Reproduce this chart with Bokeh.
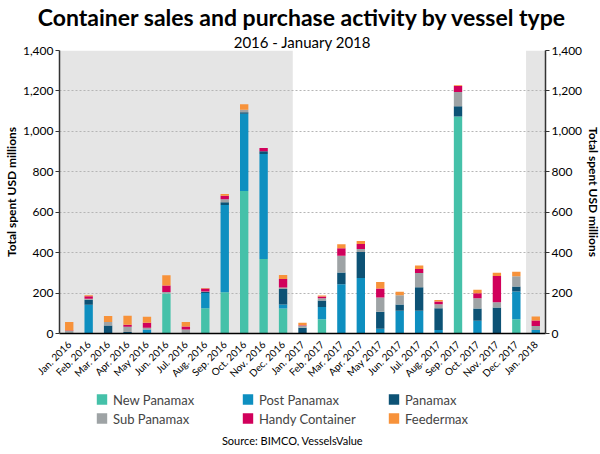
import math
from bokeh.plotting import figure
from bokeh.layouts import column
from bokeh.models import (Range1d, LinearAxis, NumeralTickFormatter, BoxAnnotation,
                          Legend, LegendItem, Title, FixedTicker)
from bokeh.embed import file_html
from bokeh.resources import INLINE

months = ["Jan. 2016", "Feb. 2016", "Mar. 2016", "Apr. 2016", "May 2016", "Jun. 2016",
          "Jul. 2016", "Aug. 2016", "Sep. 2016", "Oct. 2016", "Nov. 2016", "Dec. 2016",
          "Jan. 2017", "Feb. 2017", "Mar. 2017", "Apr. 2017", "May 2017", "Jun. 2017",
          "Jul. 2017", "Aug. 2017", "Sep. 2017", "Oct. 2017", "Nov. 2017", "Dec. 2017",
          "Jan. 2018"]

new_panamax  = [0, 0, 0, 0, 0, 198, 0, 125, 204, 705, 368, 124,
                0, 71, 0, 0, 0, 0, 0, 0, 1074, 0, 0, 70, 0]
post_panamax = [0, 142, 0, 0, 20, 0, 0, 75, 432, 382, 520, 20,
                0, 60, 244, 274, 23, 113, 113, 17, 0, 63, 0, 138, 17]
panamax      = [0, 25, 40, 8, 0, 0, 0, 5, 13, 8, 13, 76,
                28, 32, 58, 129, 85, 30, 116, 108, 50, 61, 129, 25, 0]
sub_panamax  = [12, 5, 17, 25, 8, 7, 20, 3, 15, 12, 0, 7,
                10, 12, 83, 15, 70, 46, 70, 20, 71, 50, 25, 50, 20]
handy        = [3, 12, 0, 10, 25, 33, 15, 15, 18, 0, 17, 43,
                3, 8, 37, 25, 45, 0, 20, 13, 30, 25, 131, 0, 27]
feedermax    = [42, 5, 30, 45, 30, 50, 22, 2, 8, 27, 0, 20,
                12, 5, 20, 15, 32, 17, 18, 8, 3, 17, 15, 22, 20]

series_names = ["New Panamax", "Post Panamax", "Panamax", "Sub Panamax",
                "Handy Container", "Feedermax"]
colors = ["#45C1A9", "#0E8FC0", "#0D5275", "#9EA3A5", "#D1005B", "#F7923A"]
y_ticks = [0, 200, 400, 600, 800, 1000, 1200, 1400]

FONT = "Lato"

data = {"month": months, "New Panamax": new_panamax, "Post Panamax": post_panamax,
        "Panamax": panamax, "Sub Panamax": sub_panamax,
        "Handy Container": handy, "Feedermax": feedermax}

p = figure(x_range=months, y_range=Range1d(0, 1400),
           frame_width=486, frame_height=283,
           output_backend="svg", toolbar_location=None, title=None,
           min_border_left=0, min_border_right=0, min_border_top=0, min_border_bottom=0)
p.outline_line_color = None
p.background_fill_color = "white"

# shaded periods
p.add_layout(BoxAnnotation(left=0, right=months.index("Dec. 2016") + 1,
                           fill_color="#E5E5E5", fill_alpha=1, line_color=None, level="image"))
p.add_layout(BoxAnnotation(left=months.index("Jan. 2018"), right=len(months),
                           fill_color="#E5E5E5", fill_alpha=1, line_color=None, level="image"))

renderers = p.vbar_stack(series_names, x="month", width=0.43, color=colors,
                         source=data, line_color=None)

# grid
p.xgrid.grid_line_color = None
p.ygrid.grid_line_color = "#B5B5B5"
p.ygrid.grid_line_dash = "2 2"
p.ygrid.grid_line_width = 1

def style_y(ax):
    ax.ticker = FixedTicker(ticks=y_ticks)
    ax.formatter = NumeralTickFormatter(format="0,0")
    ax.axis_label = "Total spent USD millions"
    ax.axis_label_text_font = FONT
    ax.axis_label_text_font_style = "bold"
    ax.axis_label_text_font_size = "12px"
    ax.axis_label_text_color = "black"
    ax.axis_label_standoff = 1
    ax.major_label_text_font = FONT
    ax.major_label_text_font_size = "12px"
    ax.major_label_text_color = "black"
    ax.major_label_standoff = 2
    ax.minor_tick_line_color = None
    ax.major_tick_out = 4
    ax.major_tick_in = 0
    ax.major_tick_line_color = "#333333"
    ax.axis_line_color = "#333333"
    ax.axis_line_width = 1.5

style_y(p.yaxis[0])
right_axis = LinearAxis()
style_y(right_axis)
p.add_layout(right_axis, "right")

xa = p.xaxis[0]
xa.major_label_orientation = math.pi / 4
xa.major_label_text_font = FONT
xa.major_label_text_font_size = "10px"
xa.major_label_text_color = "black"
xa.major_tick_line_color = None
xa.minor_tick_line_color = None
xa.axis_line_color = "black"
xa.axis_line_width = 1.5
xa.major_label_standoff = 3

sub = Title(text="2016 - January 2018", align="center", standoff=0, text_font=FONT,
            text_font_size="15px", text_font_style="normal", text_color="black")
p.add_layout(sub, "above")
main = Title(text="Container sales and purchase activity by vessel type", align="center",
             standoff=0, text_font=FONT, text_font_size="23px", text_font_style="bold",
             text_color="black")
p.add_layout(main, "above")

# legend + source in a strip below the chart
lg = figure(width=584, height=60, x_range=Range1d(0, 1), y_range=Range1d(0, 1),
            output_backend="svg", toolbar_location=None, title=None,
            min_border_left=0, min_border_right=0, min_border_top=0, min_border_bottom=0)
lg.axis.visible = False
lg.grid.grid_line_color = None
lg.outline_line_color = None
nan = float("nan")
proxies = [lg.vbar(x=[nan], top=[nan], width=0.5, color=c, line_color=None) for c in colors]

legend = Legend(items=[LegendItem(label=n, renderers=[r]) for n, r in zip(series_names, proxies)],
                orientation="horizontal", ncols=3, location="left",
                label_text_font=FONT, label_text_font_size="13px",
                glyph_width=13, glyph_height=13, label_width=125, label_standoff=5,
                spacing=3, label_height=13, padding=0, margin=36,
                border_line_color=None, background_fill_alpha=0)
lg.add_layout(legend, "center")

source = Title(text="Source: BIMCO, VesselsValue", align="center", standoff=0,
               text_font=FONT, text_font_size="11px", text_font_style="normal",
               text_color="black")
lg.add_layout(source, "below")

layout = column(p, lg, spacing=0)
open("out.html", "w").write(file_html(layout, INLINE))
